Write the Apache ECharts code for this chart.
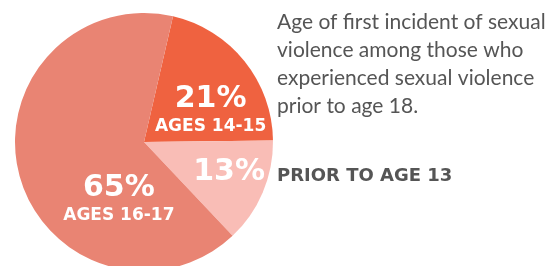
<!DOCTYPE html>
<html>
<head>
<meta charset="utf-8">
<script src="https://cdn.jsdelivr.net/npm/echarts@6/dist/echarts.min.js"></script>
<style>
  html, body { margin: 0; padding: 0; background: #fff; }
  #chart { width: 556px; height: 266px; }
</style>
</head>
<body>
<div id="chart"></div>
<script>
  // slice data, clockwise from the top
  let categories = ['AGES 14-15', 'PRIOR TO AGE 13', 'AGES 16-17']
  let values = [21, 13, 65]
  let sliceLabels = ['AGES 14-15', '', 'AGES 16-17']
  let colors = ['#EF6240', '#F9BDB6', '#E98473']
  // where each label block sits relative to the default inside spot
  let labelShift = [[14, 10], [23, 4], [40, 39]]

  let myChart = echarts.init(document.getElementById('chart'))
  myChart.setOption({
    animation: false,
    title: [
      {
        text: 'Age of first incident of sexual\nviolence among those who\nexperienced sexual violence\nprior to age 18.',
        left: 277,
        top: 8,
        padding: 0,
        textStyle: {
          fontFamily: 'Lato',
          fontWeight: 'normal',
          fontSize: 21,
          lineHeight: 28,
          color: '#555555'
        }
      },
      {
        text: 'PRIOR TO AGE 13',
        left: 277,
        top: 167,
        padding: 0,
        textStyle: {
          fontFamily: 'DejaVu Sans',
          fontWeight: 'bold',
          fontSize: 18,
          color: '#555555'
        }
      }
    ],
    series: [
      {
        type: 'pie',
        center: [144, 142],
        radius: 129,
        startAngle: 77,
        clockwise: true,
        silent: true,
        data: categories.map(function (c, i) {
          return { name: c, value: values[i], itemStyle: { color: colors[i] } }
        }),
        label: {
          show: true,
          position: 'inside',
          formatter: function (p) {
            let s = '{p|' + values[p.dataIndex] + '%}'
            if (sliceLabels[p.dataIndex]) s += '\n{a|' + sliceLabels[p.dataIndex] + '}'
            return s
          },
          rich: {
            p: { fontFamily: 'DejaVu Sans', fontWeight: 'bold', fontSize: 30, color: '#fff', lineHeight: 34 },
            a: { fontFamily: 'DejaVu Sans', fontWeight: 'bold', fontSize: 17, color: '#fff', lineHeight: 20 }
          }
        },
        labelLayout: function (params) {
          let s = labelShift[params.dataIndex]
          return { dx: s[0], dy: s[1] }
        },
        labelLine: { show: false }
      }
    ]
  })
</script>
</body>
</html>
